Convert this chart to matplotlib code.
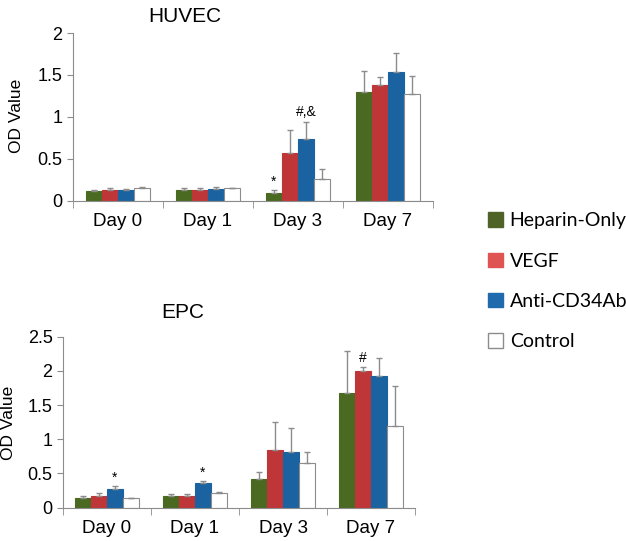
import numpy as np
import matplotlib.pyplot as plt
from matplotlib.patches import Patch
from matplotlib.ticker import FuncFormatter

plt.rcParams['font.family'] = ['Liberation Sans', 'DejaVu Sans']

days = ['Day 0', 'Day 1', 'Day 3', 'Day 7']
groups = ['Heparin-Only', 'VEGF', 'Anti-CD34Ab', 'Control']

# HUVEC
huvec_heparin = [0.115, 0.13, 0.10, 1.30]
huvec_vegf = [0.13, 0.13, 0.57, 1.38]
huvec_cd34 = [0.13, 0.14, 0.74, 1.54]
huvec_ctrl = [0.16, 0.15, 0.26, 1.27]
huvec_heparin_err = [0.01, 0.02, 0.03, 0.25]
huvec_vegf_err = [0.02, 0.02, 0.27, 0.10]
huvec_cd34_err = [0.015, 0.025, 0.20, 0.22]
huvec_ctrl_err = [0.005, 0.01, 0.12, 0.22]

# EPC
epc_heparin = [0.14, 0.17, 0.42, 1.67]
epc_vegf = [0.17, 0.17, 0.84, 2.00]
epc_cd34 = [0.27, 0.36, 0.82, 1.92]
epc_ctrl = [0.14, 0.22, 0.65, 1.19]
epc_heparin_err = [0.03, 0.03, 0.10, 0.62]
epc_vegf_err = [0.04, 0.03, 0.42, 0.06]
epc_cd34_err = [0.05, 0.03, 0.34, 0.27]
epc_ctrl_err = [0.005, 0.005, 0.16, 0.59]

bar_colors = ['#4a6a22', '#bf3638', '#1b63a0', 'white']
legend_colors = ['#4f6228', '#e05353', '#1f69ad', 'white']
gray = '#8c8c8c'


def draw(ax, vals, errs, ymax, notes):
    x = np.arange(len(days))
    w = 0.18
    for i, (v, e) in enumerate(zip(vals, errs)):
        pos = x + (i - 1.5) * w
        ax.bar(pos, v, w, color=bar_colors[i],
               edgecolor=gray if i == 3 else bar_colors[i], linewidth=0.8)
        ax.errorbar(pos, v, yerr=[np.zeros(len(e)), e], fmt='none',
                    ecolor=gray, elinewidth=1, capsize=2.5, capthick=1)
    for (gi, di, y, txt) in notes:
        ax.text(di + (gi - 1.5) * w, y, txt, ha='center', va='bottom', fontsize=10)
    ax.set_xlim(-0.5, 3.5)
    ax.set_ylim(0, ymax)
    ax.set_xticks(x)
    ax.set_xticklabels(days, fontsize=13.5)
    ax.set_xticks(np.arange(-0.5, 4, 1), minor=True)
    ax.tick_params(axis='x', which='major', length=0, pad=9)
    ax.tick_params(axis='x', which='minor', length=5, color=gray)
    ax.tick_params(axis='y', length=4, color=gray, labelsize=13)
    ax.yaxis.set_major_formatter(FuncFormatter(lambda v, p: '%g' % v))
    for s in ['top', 'right']:
        ax.spines[s].set_visible(False)
    for s in ['left', 'bottom']:
        ax.spines[s].set_color(gray)


fig = plt.figure(figsize=(6.26, 5.41), dpi=100)

ax1 = fig.add_axes([0.1166, 0.6285, 0.575, 0.3105])
draw(ax1,
     [huvec_heparin, huvec_vegf, huvec_cd34, huvec_ctrl],
     [huvec_heparin_err, huvec_vegf_err, huvec_cd34_err, huvec_ctrl_err],
     2, [(0, 2, 0.14, '*'), (2, 2, 0.98, '#,&')])
ax1.set_yticks(np.arange(0, 2.01, 0.5))
fig.text(185 / 626, 1 - 16 / 541, 'HUVEC', ha='center', va='center', fontsize=15)
fig.text(17 / 626, 1 - 116 / 541, 'OD Value', rotation=90,
         ha='center', va='center', fontsize=12.5)

ax2 = fig.add_axes([0.1006, 0.0616, 0.5624, 0.316])
draw(ax2,
     [epc_heparin, epc_vegf, epc_cd34, epc_ctrl],
     [epc_heparin_err, epc_vegf_err, epc_cd34_err, epc_ctrl_err],
     2.5, [(2, 0, 0.34, '*'), (2, 1, 0.41, '*'), (1, 3, 2.09, '#')])
ax2.set_yticks(np.arange(0, 2.51, 0.5))
fig.text(183 / 626, 1 - 313 / 541, 'EPC', ha='center', va='center', fontsize=15)
fig.text(9 / 626, 1 - 423 / 541, 'OD Value', rotation=90,
         ha='center', va='center', fontsize=12.5)

handles = [Patch(facecolor=c, edgecolor=(gray if c == 'white' else c)) for c in legend_colors]
fig.legend(handles, groups, loc='upper left', bbox_to_anchor=(0.752, 0.64),
           frameon=False, labelspacing=1.2,
           handlelength=0.75, handleheight=0.75, handletextpad=0.35,
           prop={'family': ['Lato', 'DejaVu Sans'], 'size': 14})

fig.savefig('out.png', dpi=100)
